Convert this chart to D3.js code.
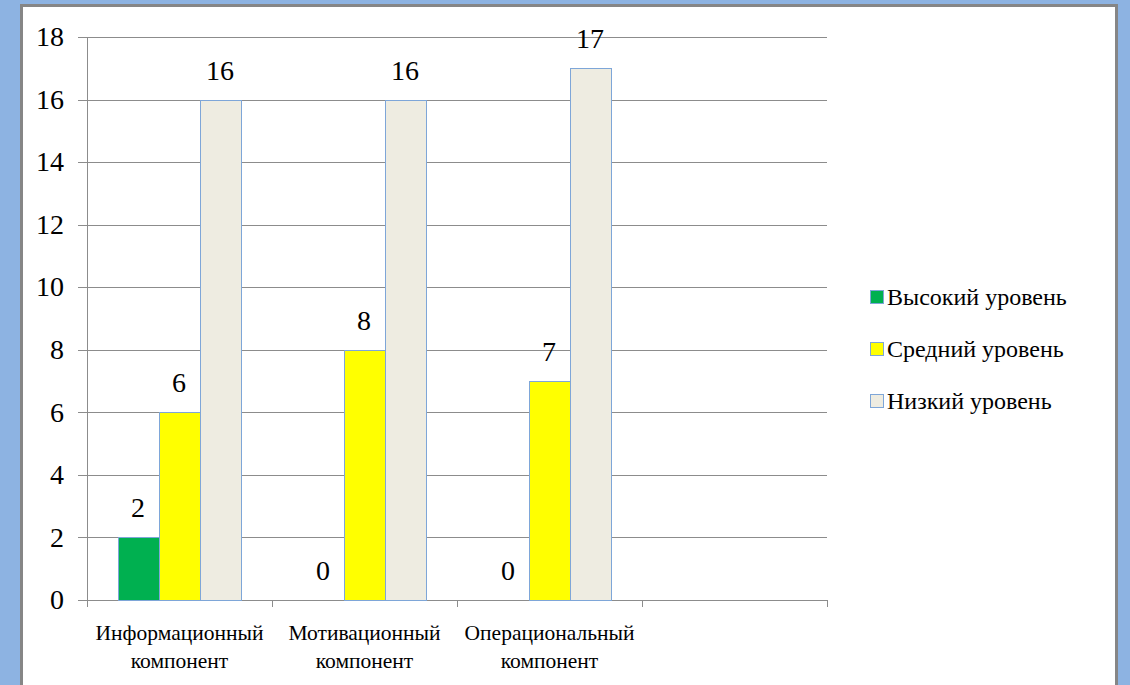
<!DOCTYPE html>
<html>
<head>
<meta charset="utf-8">
<script src="https://cdn.jsdelivr.net/npm/d3@7"></script>
<style>
  svg text, svg tspan { font-family: "Liberation Serif", serif !important; }
</style>
</head>
<body style="margin:0; background:#8db3e2">
<script>
const categories = [
  ['Информационный', 'компонент'],
  ['Мотивационный', 'компонент'],
  ['Операциональный', 'компонент'],
  ['', '']
]
const seriesNames = ['Высокий уровень', 'Средний уровень', 'Низкий уровень']
const seriesColors = ['#00b050', '#ffff00', '#eeece1']
const highValues = [2, 0, 0, null]
const midValues = [6, 8, 7, null]
const lowValues = [16, 16, 17, null]
const yTicks = [0, 2, 4, 6, 8, 10, 12, 14, 16, 18]

const FONT = '"Liberation Serif"'

const W = 1130
const H = 685
const margin = { top: 37, left: 87, right: 303, bottom: 85 }
const width = W - margin.left - margin.right
const height = H - margin.top - margin.bottom

const root = d3.select('body')
  .append('svg')
  .attr('width', W)
  .attr('height', H)
  .style('display', 'block')

// helper so every label carries the serif face
function label(parent, txt, size) {
  return parent.append('text')
    .style('font-family', FONT, 'important')
    .style('font-size', size + 'px')
    .text(txt)
}

// white panel with grey frame
root.append('rect')
  .attr('x', 21.5)
  .attr('y', 5.5)
  .attr('width', 1095)
  .attr('height', 700)
  .attr('fill', '#fff')
  .attr('stroke', '#868686')
  .attr('stroke-width', 3)

const svg = root.append('g')
  .attr('transform', 'translate(' + margin.left + ',' + margin.top + ')')

const x = d3.scaleBand()
  .domain(d3.range(categories.length))
  .range([0, width])

const x1 = d3.scaleBand()
  .domain(d3.range(seriesNames.length))
  .range([x.bandwidth() * 0.165, x.bandwidth() * 0.83])

const y = d3.scaleLinear()
  .domain([0, 18])
  .range([height, 0])

// gridlines
svg.selectAll('.grid')
  .data(yTicks)
  .enter()
  .append('line')
  .attr('x1', -9)
  .attr('x2', width)
  .attr('y1', d => Math.round(y(d)) + 0.5)
  .attr('y2', d => Math.round(y(d)) + 0.5)
  .attr('stroke', '#8c8c8c')
  .attr('stroke-width', 1)

// y tick labels
yTicks.forEach(d => {
  label(svg, d, 28)
    .attr('x', -23)
    .attr('y', y(d))
    .attr('dy', '0.33em')
    .attr('text-anchor', 'end')
})

// y axis line
svg.append('line')
  .attr('x1', 0.5).attr('x2', 0.5)
  .attr('y1', 0).attr('y2', height)
  .attr('stroke', '#8c8c8c')

// x category ticks
svg.selectAll('.xtick')
  .data(d3.range(categories.length + 1))
  .enter()
  .append('line')
  .attr('x1', d => Math.round(d * x.step()) + 0.5)
  .attr('x2', d => Math.round(d * x.step()) + 0.5)
  .attr('y1', height)
  .attr('y2', height + 7)
  .attr('stroke', '#8c8c8c')

const series = [highValues, midValues, lowValues]

series.forEach((vals, si) => {
  vals.forEach((v, i) => {
    if (v === null) return
    if (v > 0) {
      svg.append('rect')
        .attr('x', Math.round(x(i) + x1(si)) + 0.5)
        .attr('y', Math.round(y(v)) + 0.5)
        .attr('width', Math.round(x1.bandwidth()))
        .attr('height', Math.round(y(0)) - Math.round(y(v)))
        .attr('fill', seriesColors[si])
        .attr('stroke', '#7ea6d8')
        .attr('stroke-width', 1)
    }
    label(svg, v, 28)
      .attr('x', x(i) + x1(si) + x1.bandwidth() / 2)
      .attr('y', y(v) - 20)
      .attr('text-anchor', 'middle')
  })
})

// x category labels, two lines each
categories.forEach((lines, i) => {
  lines.forEach((line, li) => {
    if (!line) return
    label(svg, line, 21.5)
      .attr('x', x(i) + x.bandwidth() / 2)
      .attr('y', height + 40 + li * 28)
      .attr('text-anchor', 'middle')
  })
})

// legend
seriesNames.forEach((name, i) => {
  const ly = 297 + i * 52
  root.append('rect')
    .attr('x', 870.5)
    .attr('y', ly - 6.5)
    .attr('width', 13)
    .attr('height', 13)
    .attr('fill', seriesColors[i])
    .attr('stroke', '#7ea6d8')
  label(root, name, 24)
    .attr('x', 887)
    .attr('y', ly)
    .attr('dy', '0.33em')
})
</script>
</body>
</html>
